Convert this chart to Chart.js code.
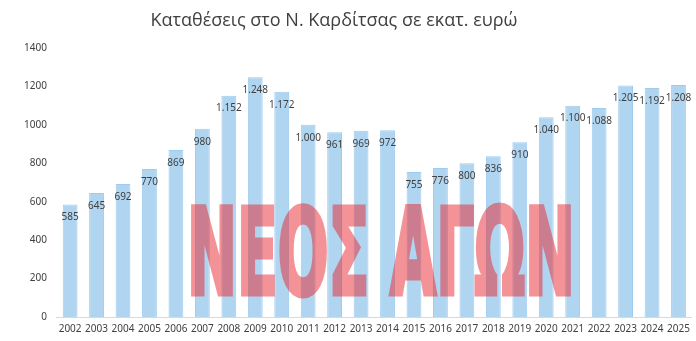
<!DOCTYPE html>
<html>
<head>
<meta charset="utf-8">
<script src="https://cdn.jsdelivr.net/npm/chart.js@4/dist/chart.umd.min.js"></script>
<style>
  html, body { margin: 0; padding: 0; background: #fff; }
  #wrap { width: 696px; height: 341px; position: relative; }
</style>
</head>
<body>
<div id="wrap"><canvas id="deposits"></canvas></div>
<script>
// Deposits in Karditsa prefecture, million euro
const years = ['2002', '2003', '2004', '2005', '2006', '2007', '2008', '2009', '2010', '2011', '2012', '2013',
  '2014', '2015', '2016', '2017', '2018', '2019', '2020', '2021', '2022', '2023', '2024', '2025'];
const deposits = [585, 645, 692, 770, 869, 980, 1152, 1248, 1172, 1000, 961, 969,
  972, 755, 776, 800, 836, 910, 1040, 1100, 1088, 1205, 1192, 1208];
const yTicks = [0, 200, 400, 600, 800, 1000, 1200, 1400];

const titleText = 'Καταθέσεις στο Ν. Καρδίτσας σε εκατ. ευρώ';
const watermarkText = 'ΝΕΟΣ ΑΓΩΝ';

// greek style thousands separator: 1.152
function fmt(v) {
  return v >= 1000 ? Math.floor(v / 1000) + '.' + String(v % 1000).padStart(3, '0') : String(v);
}

const barLabels = {
  id: 'barLabels',
  afterDatasetsDraw(chart) {
    const ctx = chart.ctx;
    const meta = chart.getDatasetMeta(0);
    ctx.save();
    ctx.font = '10px "Noto Sans", sans-serif';
    ctx.fillStyle = '#404040';
    ctx.textAlign = 'center';
    ctx.textBaseline = 'middle';
    meta.data.forEach((bar, i) => {
      ctx.fillText(fmt(deposits[i]), bar.x, bar.y + 13);
    });
    ctx.restore();
  },
};

// title centred on the page, not on the plot
const pageTitle = {
  id: 'pageTitle',
  afterDraw(chart) {
    const ctx = chart.ctx;
    ctx.save();
    ctx.font = '18px "Open Sans", sans-serif';
    ctx.fillStyle = '#404040';
    ctx.textAlign = 'center';
    ctx.textBaseline = 'middle';
    ctx.fillText(titleText, 334, 21);
    ctx.restore();
  },
};

// newspaper watermark over the bars (drawn opaque offscreen, then blended)
const watermark = {
  id: 'watermark',
  afterDraw(chart) {
    const off = document.createElement('canvas');
    off.width = chart.width;
    off.height = chart.height;
    const o = off.getContext('2d');
    o.font = 'bold 60px "DejaVu Sans Condensed", "DejaVu Sans", sans-serif';
    o.fillStyle = '#e82830';
    o.strokeStyle = '#e82830';
    o.lineWidth = 2.5;
    o.textAlign = 'center';
    o.textBaseline = 'alphabetic';
    o.translate(381, 294);
    const w = o.measureText(watermarkText).width;
    o.scale(388 / w, 2.0);
    o.fillText(watermarkText, 0, 0);
    o.strokeText(watermarkText, 0, 0);
    const ctx = chart.ctx;
    ctx.save();
    ctx.globalAlpha = 0.5;
    ctx.drawImage(off, 0, 0, chart.width, chart.height);
    ctx.restore();
  },
};

new Chart(document.getElementById('deposits'), {
  type: 'bar',
  data: {
    labels: years,
    datasets: [{
      data: deposits,
      backgroundColor: '#afd5f1',
      borderColor: '#9fcbee',
      borderWidth: 1,
      barPercentage: 0.56,
      categoryPercentage: 1,
    }],
  },
  options: {
    responsive: true,
    maintainAspectRatio: false,
    animation: false,
    layout: { padding: { left: 14, right: 3, top: 48, bottom: 0 } },
    plugins: {
      legend: { display: false },
      tooltip: { enabled: false },
      title: { display: false },
    },
    scales: {
      x: {
        grid: { display: false, drawTicks: false },
        border: { color: '#d9d9d9' },
        ticks: { color: '#404040', font: { size: 10, family: '"Noto Sans", sans-serif' }, padding: 6, maxRotation: 0, autoSkip: false },
      },
      y: {
        min: 0,
        max: 1400,
        afterBuildTicks(axis) { axis.ticks = yTicks.map((v) => ({ value: v })); },
        grid: { display: false, drawTicks: false },
        border: { display: false },
        ticks: {
          color: '#404040',
          font: { size: 10, family: '"Noto Sans", sans-serif' },
          padding: 10,
          callback: (v) => String(v),
        },
      },
    },
  },
  plugins: [barLabels, pageTitle, watermark],
});
</script>
</body>
</html>
